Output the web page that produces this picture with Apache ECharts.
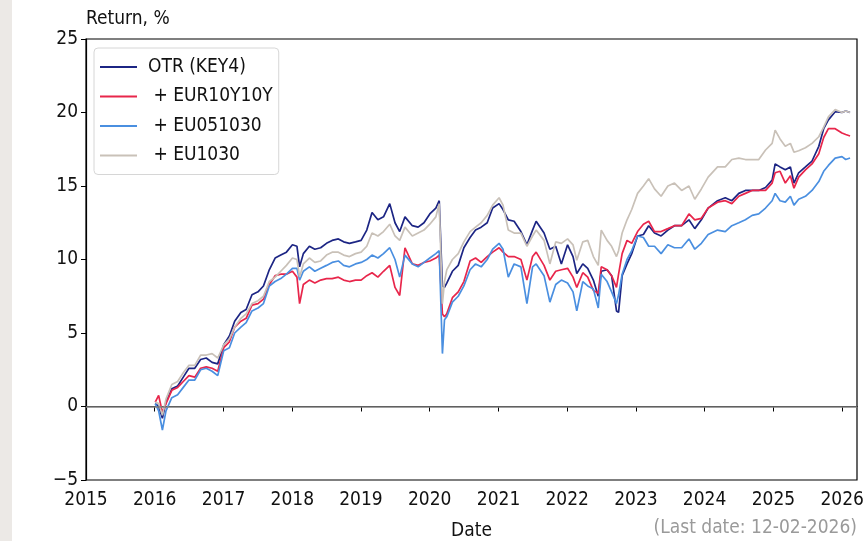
<!DOCTYPE html>
<html>
<head>
<meta charset="utf-8">
<script src="https://cdn.jsdelivr.net/npm/echarts@6/dist/echarts.min.js"></script>
<style>
  body { margin: 0; background: #ece9e6; }
  #chart { position: absolute; left: 12px; top: 0; width: 854px; height: 541px; background: #fff; }
</style>
</head>
<body>
<div id="chart"></div>
<script>
// Fechas de lectura (aprox. mensual, con puntos extra en los saltos)
var fechas = [
  "2016-01-04","2016-01-22","2016-02-11","2016-03-01","2016-04-01","2016-05-02","2016-06-01","2016-07-01",
  "2016-08-01","2016-09-01","2016-10-01","2016-11-01","2016-12-01","2017-01-02","2017-02-01","2017-03-01",
  "2017-04-03","2017-05-01","2017-06-01","2017-07-03","2017-08-01","2017-09-01","2017-10-02","2017-11-01",
  "2017-12-01","2018-01-02","2018-01-26","2018-02-09","2018-03-01","2018-04-02","2018-05-01","2018-06-01",
  "2018-07-02","2018-08-01","2018-09-03","2018-10-01","2018-11-01","2018-12-03","2019-01-02","2019-02-01",
  "2019-03-01","2019-04-01","2019-05-01","2019-06-03","2019-07-01","2019-07-26","2019-08-23","2019-10-01",
  "2019-11-01","2019-12-02","2020-01-02","2020-02-03","2020-02-21","2020-03-09","2020-03-20","2020-04-01",
  "2020-05-01","2020-06-01","2020-07-01","2020-08-03","2020-09-01","2020-10-01","2020-11-02","2020-12-01",
  "2021-01-04","2021-01-25","2021-02-22","2021-03-25","2021-04-30","2021-06-01","2021-07-01","2021-07-20",
  "2021-08-31","2021-10-01","2021-11-01","2021-12-01","2022-01-03","2022-02-01","2022-02-21","2022-03-25",
  "2022-04-20","2022-05-20","2022-06-15","2022-07-01","2022-08-01","2022-08-25","2022-09-20","2022-10-01",
  "2022-10-20","2022-11-15","2022-12-10","2023-01-10","2023-02-10","2023-03-10","2023-04-10","2023-05-15",
  "2023-06-20","2023-07-25","2023-09-01","2023-10-10","2023-11-10","2023-12-15","2024-01-20","2024-03-10",
  "2024-04-20","2024-05-25","2024-07-01","2024-08-05","2024-09-10","2024-10-15","2024-11-20","2024-12-25",
  "2025-01-10","2025-02-05","2025-03-05","2025-04-01","2025-04-20","2025-05-15","2025-06-20","2025-07-25",
  "2025-08-30","2025-09-25","2025-10-20","2025-11-25","2025-12-31","2026-01-20","2026-02-12"
];

var otr = [
  0.2, 0.0, -0.8, 0.3, 1.2, 1.4, 2.0, 2.6, 2.6, 3.2, 3.3, 3.0, 2.9, 4.2, 4.8, 5.8,
  6.4, 6.6, 7.6, 7.8, 8.2, 9.3, 10.1, 10.3, 10.5, 11.0, 10.9, 9.5, 10.4, 10.9, 10.7, 10.8,
  11.1, 11.3, 11.4, 11.2, 11.1, 11.2, 11.3, 12.0, 13.2, 12.7, 12.9, 13.8, 12.5, 11.9, 12.9, 12.3,
  12.2, 12.5, 13.1, 13.5, 14.0, 8.2, 8.1, 8.4, 9.2, 9.6, 10.8, 11.5, 12.0, 12.2, 12.5, 13.5,
  13.8, 13.4, 12.7, 12.6, 11.9, 11.0, 12.0, 12.6, 11.8, 10.7, 10.9, 9.7, 11.0, 10.2, 9.05, 9.7,
  9.4, 8.6, 7.5, 9.2, 9.3, 8.9, 6.5, 6.4, 8.9, 9.7, 10.4, 11.6, 11.7, 12.3, 11.8, 11.6,
  12.0, 12.3, 12.3, 12.7, 12.1, 12.7, 13.5, 14.0, 14.2, 14.0, 14.5, 14.7, 14.7, 14.7, 14.9, 15.4,
  16.5, 16.3, 16.1, 16.3, 15.2, 15.9, 16.3, 16.7, 17.7, 18.9, 19.5, 20.05, 20.0, 20.1, 20.0
];

var eur10y10y = [
  0.3, 0.75, -0.4, 0.2, 1.1, 1.3, 1.7, 2.1, 2.0, 2.6, 2.7, 2.6, 2.4, 4.0, 4.4, 5.4,
  5.8, 6.0, 6.9, 7.0, 7.3, 8.3, 8.9, 9.0, 9.0, 9.2, 8.8, 7.0, 8.3, 8.6, 8.4, 8.6,
  8.7, 8.7, 8.8, 8.6, 8.5, 8.6, 8.6, 8.9, 9.1, 8.8, 9.2, 9.6, 8.1, 7.55, 10.8, 9.7,
  9.6, 9.8, 9.9, 10.1, 10.3, 6.3, 6.1, 6.3, 7.4, 7.8, 8.5, 9.9, 10.1, 9.8, 10.2, 10.5,
  10.8, 10.5, 10.2, 10.2, 10.0, 8.6, 10.2, 10.5, 9.6, 8.6, 9.2, 9.3, 9.4, 8.8, 8.1, 9.1,
  8.8, 7.9, 7.7, 9.5, 9.3, 8.9, 8.1, 9.0, 10.4, 11.3, 11.1, 11.9, 12.4, 12.6, 11.9, 11.9,
  12.1, 12.3, 12.3, 13.1, 12.7, 12.8, 13.5, 13.9, 14.0, 13.8, 14.3, 14.5, 14.7, 14.7, 14.7, 15.2,
  15.9, 16.0, 15.2, 15.7, 14.85, 15.6, 16.1, 16.5, 17.2, 18.3, 18.9, 18.9, 18.6, 18.5, 18.4
];

var eu051030 = [
  0.2, -0.3, -1.6, -0.3, 0.6, 0.8, 1.3, 1.8, 1.8, 2.5, 2.6, 2.4, 2.1, 3.8, 4.0, 5.0,
  5.4, 5.7, 6.5, 6.7, 7.0, 8.2, 8.5, 8.7, 9.0, 9.4, 9.4, 8.6, 9.2, 9.5, 9.2, 9.4,
  9.6, 9.8, 9.9, 9.6, 9.5, 9.7, 9.8, 10.0, 10.3, 10.1, 10.4, 10.8, 10.0, 8.8, 10.3, 9.7,
  9.5, 9.8, 10.1, 10.4, 10.6, 3.6, 5.9, 6.1, 7.1, 7.5, 8.2, 9.3, 9.7, 9.5, 10.0, 10.7,
  11.1, 10.7, 8.8, 9.7, 9.5, 7.0, 9.5, 9.7, 8.9, 7.1, 8.3, 8.6, 8.4, 7.8, 6.5, 8.5,
  8.2, 8.0, 6.7, 9.0, 8.5, 7.8, 7.0, 7.6, 9.0, 10.0, 10.6, 11.6, 11.5, 10.9, 10.9, 10.4,
  11.0, 10.8, 10.8, 11.4, 10.7, 11.1, 11.7, 12.0, 11.9, 12.3, 12.5, 12.7, 13.0, 13.1, 13.5, 14.0,
  14.5, 14.0, 13.9, 14.3, 13.7, 14.1, 14.3, 14.7, 15.3, 16.0, 16.4, 16.9, 17.0, 16.8, 16.9
];

var eu1030 = [
  0.3, 0.2, -0.6, 0.5, 1.5, 1.7, 2.3, 2.8, 2.8, 3.5, 3.5, 3.6, 3.3, 4.2, 4.6, 5.4,
  6.0, 6.3, 7.0, 7.2, 7.5, 8.5, 8.8, 9.2, 9.6, 10.1, 10.0, 8.8, 9.7, 10.1, 9.8, 9.9,
  10.3, 10.5, 10.5, 10.3, 10.2, 10.4, 10.5, 10.9, 11.8, 11.6, 11.9, 12.4, 11.6, 11.3, 12.2, 11.6,
  11.8, 12.0, 12.4, 12.9, 13.8, 7.0, 8.5, 9.3, 10.0, 10.4, 11.2, 11.9, 12.2, 12.5, 13.0, 13.7,
  14.2, 13.7, 12.0, 11.8, 11.8, 10.9, 11.6, 12.0, 11.3, 9.7, 11.2, 11.1, 11.4, 11.0, 9.95, 11.2,
  11.3, 10.2, 9.6, 12.0, 11.3, 10.9, 10.2, 10.6, 11.8, 12.7, 13.4, 14.5, 15.0, 15.5, 14.8, 14.3,
  15.0, 15.2, 14.7, 15.0, 14.1, 14.8, 15.6, 16.3, 16.3, 16.8, 16.9, 16.8, 16.8, 16.8, 17.45, 17.9,
  18.8, 18.2, 17.7, 17.9, 17.3, 17.4, 17.6, 17.9, 18.35, 19.0, 19.7, 20.2, 20.0, 20.1, 20.0
];

var nombres = ["OTR (KEY4)", " + EUR10Y10Y", " + EU051030", " + EU1030"];
var colores = ["#1c2584", "#e8264b", "#4a8fe0", "#c9c1b8"];
var valores = [otr, eur10y10y, eu051030, eu1030];

var fuente = "'DejaVu Sans Condensed', 'DejaVu Sans', sans-serif";
var tamFuente = 19;
var unAnio = 365.25 * 24 * 3600 * 1000;

var series = valores.map(function (v, i) {
  return {
    name: nombres[i],
    type: "line",
    showSymbol: false,
    symbol: "none",
    color: colores[i],
    lineStyle: { width: 1.7, color: colores[i] },
    data: fechas.map(function (f, j) { return [f, v[j]]; })
  };
});

// Línea de cero
series[0].markLine = {
  silent: true,
  symbol: "none",
  label: { show: false },
  lineStyle: { color: "#808080", width: 1.5, type: "solid" },
  data: [{ yAxis: 0 }]
};

var chart = echarts.init(document.getElementById("chart"));
chart.setOption({
  animation: false,
  grid: {
    left: 74, right: 9, top: 39, bottom: 61,
    outerBoundsMode: "none",
    containLabel: false,
    show: true, borderColor: "#000", borderWidth: 1.2, backgroundColor: "transparent"
  },
  legend: {
    left: 82, top: 48,
    orient: "vertical",
    icon: "rect",
    itemWidth: 37, itemHeight: 2,
    itemGap: 9.5,
    padding: [9, 6, 9, 6],
    borderColor: "#d6d6d6", borderWidth: 1, borderRadius: 4,
    backgroundColor: "#fff",
    selectedMode: false,
    textStyle: { fontFamily: fuente, fontSize: tamFuente, color: "#111", lineHeight: 20, padding: [0, 0, 0, 6] },
    data: nombres
  },
  xAxis: {
    type: "time",
    min: "2015-01-01",
    max: "2026-03-21",
    minInterval: unAnio,
    maxInterval: unAnio,
    name: "Date",
    nameLocation: "middle",
    nameGap: 42,
    nameTextStyle: { fontFamily: fuente, fontSize: tamFuente, color: "#111" },
    splitLine: { show: false },
    axisLine: { lineStyle: { color: "#000", width: 1.2 } },
    axisTick: { show: true, length: 5, lineStyle: { color: "#000" } },
    axisLabel: { formatter: "{yyyy}", fontFamily: fuente, fontSize: tamFuente, color: "#111", margin: 11, showMinLabel: true },
    minorTick: { show: false }
  },
  yAxis: {
    type: "value",
    min: -5, max: 25, interval: 5,
    name: "Return, %",
    nameLocation: "end",
    nameGap: 10,
    nameTextStyle: { fontFamily: fuente, fontSize: tamFuente, color: "#111", align: "left" },
    splitLine: { show: false },
    axisLine: { show: true, lineStyle: { color: "#000", width: 1.2 } },
    axisTick: { show: true, length: 5, lineStyle: { color: "#000" } },
    axisLabel: {
      fontFamily: fuente, fontSize: tamFuente, color: "#111", margin: 8,
      formatter: function (v) { return String(v).replace("-", "\u2212"); }
    }
  },
  graphic: [{
    type: "text",
    right: 9, top: 519,
    style: { text: "(Last date: 12-02-2026)", fontFamily: fuente, fontSize: tamFuente, fill: "#9a9a9a" }
  }],
  series: series
});
</script>
</body>
</html>
